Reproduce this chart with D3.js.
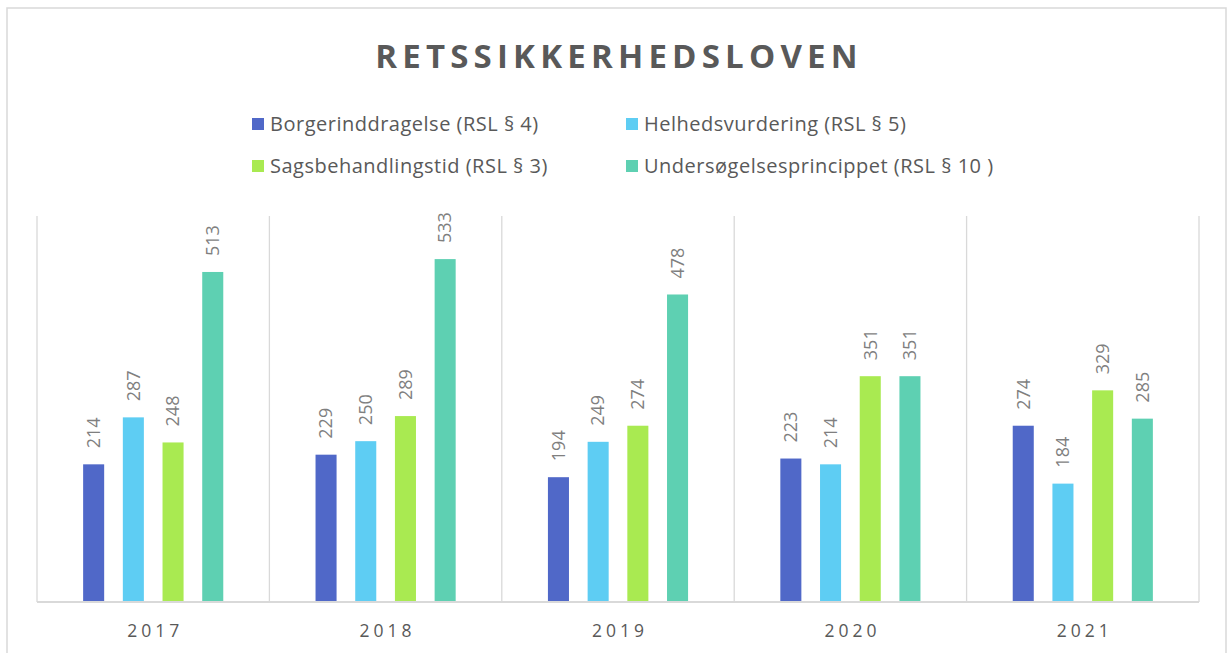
<!DOCTYPE html>
<html>
<head>
<meta charset="utf-8">
<script src="https://cdn.jsdelivr.net/npm/d3@7"></script>
<style>
  body { margin: 0; background: #fff; }
  text { font-family: "Open Sans", sans-serif; }
</style>
</head>
<body>
<div id="chart"></div>
<script>
// data
var years = ["2017", "2018", "2019", "2020", "2021"];
var seriesNames = ["Borgerinddragelse (RSL § 4)", "Helhedsvurdering (RSL § 5)",
                   "Sagsbehandlingstid (RSL § 3)", "Undersøgelsesprincippet (RSL § 10 )"];
var borger = [214, 229, 194, 223, 274];
var helhed = [287, 250, 249, 214, 184];
var sagsbeh = [248, 289, 274, 351, 329];
var undersog = [513, 533, 478, 351, 285];
var colors = ["#5068C8", "#5ECDF3", "#A9EA51", "#5ED0B2"];

var W = 1227, H = 653;
var margin = {left: 37, right: 28, top: 216, bottom: 51};

var svg = d3.select("#chart").append("svg")
    .attr("width", W).attr("height", H);

// outer chart frame
svg.append("rect")
    .attr("x", 7).attr("y", 8)
    .attr("width", 1219).attr("height", 660)
    .attr("fill", "none")
    .attr("stroke", "#d9d9d9")
    .attr("stroke-width", 1.5);

// title
svg.append("text")
    .attr("x", 619).attr("y", 68)
    .attr("text-anchor", "middle")
    .style("font-size", "33px")
    .style("font-weight", "bold")
    .style("letter-spacing", "5.2px")
    .attr("fill", "#595959")
    .text("RETSSIKKERHEDSLOVEN");

// legend, two columns by two rows
var legend = svg.selectAll(".legendItem")
    .data(seriesNames)
  .enter().append("g")
    .attr("class", "legendItem")
    .attr("transform", function(d, i) {
      return "translate(" + (252 + (i % 2) * 374) + "," + (118 + Math.floor(i / 2) * 42) + ")";
    });
legend.append("rect")
    .attr("width", 12).attr("height", 12)
    .attr("fill", function(d, i) { return colors[i]; });
legend.append("text")
    .attr("x", 18).attr("y", 6)
    .attr("dy", ".35em")
    .style("font-size", "20px")
    .style("letter-spacing", "0.5px")
    .attr("fill", "#595959")
    .text(function(d) { return d; });

var iw = W - margin.left - margin.right,
    ih = H - margin.top - margin.bottom;

var g = svg.append("g")
    .attr("transform", "translate(" + margin.left + "," + margin.top + ")");

var x0 = d3.scaleBand().domain(years).range([0, iw]);
var x1 = d3.scaleBand().domain(d3.range(4))
    .range([37, x0.bandwidth() - 37])
    .paddingInner(0.47).paddingOuter(0.23);
var y = d3.scaleLinear().domain([0, 600]).range([ih, 0]);

// category separators
g.selectAll(".sep")
    .data(d3.range(years.length + 1))
  .enter().append("line")
    .attr("x1", function(d) { return d * x0.step(); })
    .attr("x2", function(d) { return d * x0.step(); })
    .attr("y1", 0).attr("y2", ih)
    .attr("stroke", "#d9d9d9")
    .attr("stroke-width", 1.3);

var table = years.map(function(yr, i) {
  return {year: yr, values: [borger[i], helhed[i], sagsbeh[i], undersog[i]]};
});

var groups = g.selectAll(".yearGroup")
    .data(table)
  .enter().append("g")
    .attr("class", "yearGroup")
    .attr("transform", function(d) { return "translate(" + x0(d.year) + ",0)"; });

groups.selectAll("rect")
    .data(function(d) { return d.values; })
  .enter().append("rect")
    .attr("x", function(d, i) { return x1(i); })
    .attr("width", x1.bandwidth())
    .attr("y", function(d) { return y(d); })
    .attr("height", function(d) { return ih - y(d); })
    .attr("fill", function(d, i) { return colors[i]; });

// rotated value labels
groups.selectAll(".valLabel")
    .data(function(d) { return d.values; })
  .enter().append("text")
    .attr("class", "valLabel")
    .attr("transform", function(d, i) {
      return "translate(" + (x1(i) + x1.bandwidth() / 2) + "," + (y(d) - 16) + ") rotate(-90)";
    })
    .attr("dy", ".35em")
    .style("font-size", "18px")
    .attr("fill", "#7f7f7f")
    .text(function(d) { return d; });

// baseline
g.append("line")
    .attr("x1", 0).attr("x2", iw)
    .attr("y1", ih).attr("y2", ih)
    .attr("stroke", "#d9d9d9")
    .attr("stroke-width", 2);

// year labels
g.selectAll(".yearLabel")
    .data(years)
  .enter().append("text")
    .attr("class", "yearLabel")
    .attr("x", function(d) { return x0(d) + x0.bandwidth() / 2 + 2; })
    .attr("y", ih + 29)
    .attr("dy", ".35em")
    .attr("text-anchor", "middle")
    .style("font-size", "17.5px")
    .style("letter-spacing", "4px")
    .attr("fill", "#595959")
    .text(function(d) { return d; });
</script>
</body>
</html>
